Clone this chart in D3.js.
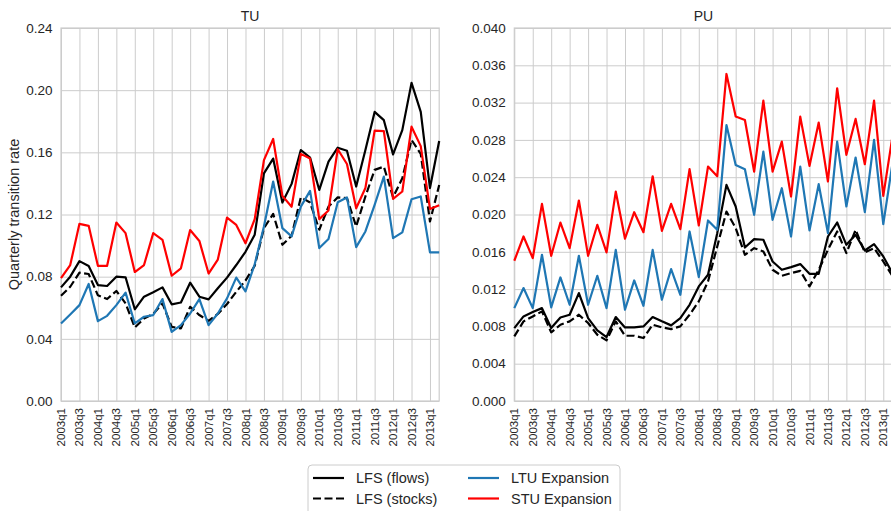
<!DOCTYPE html>
<html>
<head>
<meta charset="utf-8">
<script src="https://cdn.jsdelivr.net/npm/d3@7"></script>
<style>
  body { margin: 0; background: #fff; }
  svg { display: block; font-family: "Liberation Sans", Arial, sans-serif; }
  .grid line { stroke: #cccccc; stroke-width: 1; }
  .grid .domain { display: none; }
</style>
</head>
<body>
<svg id="chart" width="891" height="511"></svg>
<script>
// Quarters on the x axis
const quarters = [
  "2003q1","2003q2","2003q3","2003q4","2004q1","2004q2","2004q3","2004q4",
  "2005q1","2005q2","2005q3","2005q4","2006q1","2006q2","2006q3","2006q4",
  "2007q1","2007q2","2007q3","2007q4","2008q1","2008q2","2008q3","2008q4",
  "2009q1","2009q2","2009q3","2009q4","2010q1","2010q2","2010q3","2010q4",
  "2011q1","2011q2","2011q3","2011q4","2012q1","2012q2","2012q3","2012q4",
  "2013q1","2013q2"
];

// TU panel
const tuFlows = [0.0731,0.080,0.090,0.0869,0.0746,0.074,0.080,0.0796,0.059,0.0671,0.070,0.0731,0.0622,0.0634,0.0761,0.0671,0.0654,0.0725,0.0794,0.0875,0.096,0.107,0.1465,0.156,0.1277,0.1397,0.1615,0.1566,0.1358,0.154,0.163,0.161,0.138,0.1615,0.186,0.1807,0.1587,0.1743,0.2047,0.186,0.137,0.1673];
const tuStocks = [0.0677,0.0735,0.0826,0.0817,0.068,0.0656,0.0708,0.0628,0.0473,0.0531,0.056,0.0628,0.0477,0.0467,0.0606,0.0553,0.0516,0.056,0.0624,0.0703,0.0775,0.087,0.1112,0.1204,0.1005,0.1063,0.1311,0.1277,0.1102,0.1251,0.131,0.1305,0.1123,0.1316,0.1487,0.1508,0.1311,0.1433,0.168,0.159,0.1155,0.139];
const tuLTU = [0.0499,0.0557,0.0617,0.0753,0.0514,0.0548,0.0617,0.0697,0.0499,0.0542,0.0553,0.0656,0.0445,0.0488,0.0563,0.0656,0.0488,0.0563,0.066,0.0794,0.0705,0.088,0.1123,0.1412,0.1112,0.1059,0.1251,0.1352,0.0984,0.1042,0.1279,0.131,0.099,0.1091,0.1262,0.1444,0.1048,0.1085,0.1298,0.1316,0.0956,0.0956];
const tuSTU = [0.079,0.0875,0.114,0.1127,0.087,0.087,0.1148,0.108,0.083,0.0875,0.108,0.1037,0.0806,0.0854,0.110,0.103,0.082,0.091,0.118,0.1133,0.1015,0.117,0.155,0.1686,0.132,0.125,0.159,0.156,0.117,0.1226,0.162,0.1525,0.124,0.137,0.174,0.1737,0.130,0.1348,0.1765,0.164,0.1236,0.126];

// PU panel
const puFlows = [0.00782,0.00907,0.00954,0.00996,0.00782,0.00896,0.00925,0.01157,0.00889,0.00757,0.00686,0.009,0.00789,0.00789,0.008,0.009,0.00854,0.00811,0.00889,0.01032,0.01229,0.01354,0.018,0.02318,0.02086,0.01646,0.01736,0.01729,0.01496,0.01407,0.01436,0.01468,0.01364,0.01364,0.01764,0.01914,0.01675,0.01782,0.01614,0.01682,0.0155,0.0137];
const puStocks = [0.00693,0.00854,0.00907,0.00961,0.00736,0.00818,0.00854,0.00925,0.00836,0.00711,0.0065,0.00854,0.007,0.007,0.00675,0.00818,0.00789,0.00771,0.008,0.00925,0.01068,0.01282,0.01657,0.02032,0.01854,0.01568,0.01639,0.01604,0.01407,0.01343,0.01371,0.01396,0.01229,0.01407,0.01621,0.01818,0.01586,0.01836,0.01593,0.01639,0.01496,0.0134];
const puLTU = [0.00996,0.01211,0.00996,0.01568,0.01004,0.01325,0.01032,0.01557,0.01032,0.01343,0.00996,0.01621,0.00979,0.01293,0.01021,0.01621,0.01086,0.01414,0.01139,0.01818,0.01329,0.01936,0.01836,0.0296,0.02532,0.02486,0.01996,0.02675,0.01943,0.02282,0.01764,0.02514,0.01829,0.02325,0.018,0.02782,0.02086,0.02611,0.02025,0.028,0.01896,0.0255];
const puSTU = [0.01504,0.01764,0.01532,0.02114,0.01557,0.01914,0.01639,0.0215,0.01557,0.0189,0.01593,0.02246,0.0174,0.02025,0.0181,0.0241,0.01825,0.02114,0.01843,0.02486,0.01882,0.02514,0.0241,0.03507,0.0305,0.03014,0.0246,0.03221,0.0246,0.02782,0.02193,0.0305,0.02521,0.02986,0.02354,0.03354,0.0264,0.03025,0.02539,0.03221,0.022,0.0284];

const tuTicks = [0, 0.04, 0.08, 0.12, 0.16, 0.20, 0.24];
const puTicks = [0, 0.004, 0.008, 0.012, 0.016, 0.020, 0.024, 0.028, 0.032, 0.036, 0.040];

const seriesStyle = [
  { label: "LFS (flows)",   color: "#000000", dash: null },
  { label: "LFS (stocks)",  color: "#000000", dash: "8,3.5" },
  { label: "LTU Expansion", color: "#1f77b4", dash: null },
  { label: "STU Expansion", color: "#ff0000", dash: null }
];

const svg = d3.select("#chart");
const plotTop = 28, plotBottom = 401, plotW = 378.2;

/*************************/
/*  Draw one panel       */
/*************************/
const drawPanel = (left, title, series, yMax, yTicks, yFmt) => {

  const x = d3.scaleLinear().domain([0, quarters.length - 1]).range([left, left + plotW]);
  const y = d3.scaleLinear().domain([0, yMax]).range([plotBottom, plotTop]);

  const g = svg.append("g");

  // grid
  g.append("g")
    .attr("class", "grid")
    .attr("transform", `translate(0,${plotBottom})`)
    .call(d3.axisBottom(x)
      .tickValues(d3.range(0, quarters.length, 2))
      .tickSize(-(plotBottom - plotTop))
      .tickFormat(""));

  g.append("g")
    .attr("class", "grid")
    .attr("transform", `translate(${left},0)`)
    .call(d3.axisLeft(y)
      .tickValues(yTicks)
      .tickSize(-plotW)
      .tickFormat(""));

  // frame
  g.append("rect")
    .attr("x", left).attr("y", plotTop)
    .attr("width", plotW).attr("height", plotBottom - plotTop)
    .attr("fill", "none")
    .attr("stroke", "#cccccc")
    .attr("stroke-width", 1.2);

  // y tick labels
  g.selectAll(".ylab")
    .data(yTicks)
    .join("text")
      .attr("x", left - 8.5)
      .attr("y", d => y(d))
      .attr("dy", "0.35em")
      .attr("text-anchor", "end")
      .attr("font-size", 13.5)
      .attr("fill", "#262626")
      .text(yFmt);

  // x tick labels
  g.selectAll(".xlab")
    .data(d3.range(0, quarters.length, 2))
    .join("text")
      .attr("transform", i => `translate(${x(i)},${plotBottom + 7}) rotate(-90)`)
      .attr("dy", "0.35em")
      .attr("text-anchor", "end")
      .attr("font-size", 11.5)
      .attr("fill", "#262626")
      .text(i => quarters[i]);

  // title
  g.append("text")
    .attr("x", left + plotW / 2)
    .attr("y", 21)
    .attr("text-anchor", "middle")
    .attr("font-size", 14)
    .attr("fill", "#262626")
    .text(title);

  const line = d3.line()
    .x((d, i) => x(i))
    .y(d => y(d));

  series.forEach((s, k) => {
    g.append("path")
      .datum(s)
      .attr("d", line)
      .attr("fill", "none")
      .attr("stroke", seriesStyle[k].color)
      .attr("stroke-width", 2.2)
      .attr("stroke-dasharray", seriesStyle[k].dash)
      .attr("stroke-linejoin", "round");
  });

};

drawPanel(61, "TU", [tuFlows, tuStocks, tuLTU, tuSTU], 0.24, tuTicks, d3.format(".2f"));
drawPanel(514.3, "PU", [puFlows, puStocks, puLTU, puSTU], 0.040, puTicks, d3.format(".3f"));

// y axis label
svg.append("text")
  .attr("transform", `translate(19,${(plotTop + plotBottom) / 2}) rotate(-90)`)
  .attr("text-anchor", "middle")
  .attr("font-size", 14.5)
  .attr("fill", "#262626")
  .text("Quarterly transition rate");

/**************/
/*  Legend    */
/**************/
const legend = svg.append("g");

legend.append("rect")
  .attr("x", 308).attr("y", 465)
  .attr("width", 312).attr("height", 60)
  .attr("rx", 4)
  .attr("fill", "#fff")
  .attr("stroke", "#cccccc")
  .attr("stroke-width", 1);

seriesStyle.forEach((s, k) => {
  const col = Math.floor(k / 2), row = k % 2;
  const lx = col === 0 ? 313 : 468;
  const ly = 478 + row * 20.5;
  legend.append("line")
    .attr("x1", lx).attr("x2", lx + 31)
    .attr("y1", ly).attr("y2", ly)
    .attr("stroke", s.color)
    .attr("stroke-width", 2.2)
    .attr("stroke-dasharray", s.dash);
  legend.append("text")
    .attr("x", lx + 43)
    .attr("y", ly)
    .attr("dy", "0.35em")
    .attr("font-size", 14.5)
    .attr("fill", "#262626")
    .text(s.label);
});
</script>
</body>
</html>
